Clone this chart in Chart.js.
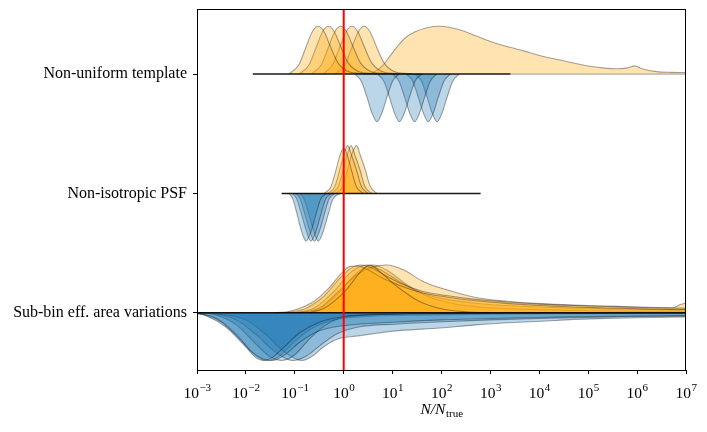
<!DOCTYPE html>
<html>
<head>
<meta charset="utf-8">
<script src="https://cdn.jsdelivr.net/npm/chart.js@4.4.1/dist/chart.umd.min.js"></script>
<style>
  html, body { margin: 0; padding: 0; background: #fff; }
  #wrap { width: 707px; height: 432px; }
</style>
</head>
<body>
<div id="wrap"><canvas id="ridge" width="707" height="432"></canvas></div>
<script>
// Ridge plot of N/N_true per systematic (orange = up, blue = down)

// --- Rows (bottom to top) ---
const rowLabels = ["Sub-bin eff. area variations", "Non-isotropic PSF", "Non-uniform template"];

// --- x ticks: decades 10^-3 .. 10^7 ---
const xTickExponents = [-3, -2, -1, 0, 1, 2, 3, 4, 5, 6, 7];
const trueRatio = 1;

// --- Curves: [log10(N/Ntrue), normalised density] ---
const templateOrange = [
  [[-1.12,0],[-0.92,0.19],[-0.78,0.54],[-0.64,0.89],[-0.52,1],[-0.40,0.88],[-0.26,0.55],[-0.12,0.24],[0.08,0.06],[0.38,0.01],[0.68,0]],
  [[-0.91,0],[-0.71,0.19],[-0.57,0.54],[-0.43,0.89],[-0.31,1],[-0.19,0.88],[-0.05,0.55],[0.09,0.24],[0.29,0.06],[0.59,0.01],[0.89,0]],
  [[-0.66,0],[-0.46,0.19],[-0.32,0.54],[-0.18,0.89],[-0.06,1],[0.06,0.88],[0.20,0.55],[0.34,0.24],[0.54,0.06],[0.84,0.01],[1.14,0]],
  [[-0.43,0],[-0.23,0.19],[-0.09,0.54],[0.05,0.89],[0.17,1],[0.29,0.88],[0.43,0.55],[0.57,0.24],[0.77,0.06],[1.07,0.01],[1.37,0]],
  [[-0.18,0],[0.02,0.19],[0.16,0.54],[0.30,0.89],[0.42,1],[0.54,0.88],[0.68,0.55],[0.82,0.24],[1.02,0.06],[1.32,0.01],[1.62,0]],
  [[0.40,0],[0.60,0.03],[0.80,0.18],[0.95,0.38],[1.10,0.58],[1.25,0.75],[1.45,0.88],[1.70,0.97],[1.95,1.0],[2.20,0.97],[2.45,0.90],
   [2.70,0.80],[3.00,0.68],[3.40,0.56],[3.70,0.48],[4.00,0.39],[4.40,0.30],[4.70,0.23],[5.00,0.17],[5.30,0.13],[5.60,0.11],
   [5.80,0.13],[5.95,0.17],[6.10,0.11],[6.40,0.05],[6.70,0.035],[7.05,0.03]]
];
const templateBlue = [
  [[0.23,0],[0.36,0.15],[0.48,0.5],[0.58,0.82],[0.68,1],[0.78,0.82],[0.88,0.5],[1.00,0.15],[1.13,0]],
  [[0.69,0],[0.82,0.15],[0.94,0.5],[1.04,0.82],[1.14,1],[1.24,0.82],[1.34,0.5],[1.46,0.15],[1.59,0]],
  [[1.00,0],[1.13,0.15],[1.25,0.5],[1.35,0.82],[1.45,1],[1.55,0.82],[1.65,0.5],[1.77,0.15],[1.90,0]],
  [[1.28,0],[1.41,0.15],[1.53,0.5],[1.63,0.82],[1.73,1],[1.83,0.82],[1.93,0.5],[2.05,0.15],[2.18,0]],
  [[1.46,0],[1.59,0.15],[1.71,0.5],[1.81,0.82],[1.91,1],[2.01,0.82],[2.11,0.5],[2.23,0.15],[2.36,0]]
];
const psfOrange = [
  [[-0.40,0],[-0.26,0.14],[-0.16,0.48],[-0.08,0.78],[0.00,0.95],[0.08,0.78],[0.16,0.48],[0.26,0.14],[0.40,0]],
  [[-0.32,0],[-0.18,0.15],[-0.08,0.5],[0.00,0.8],[0.08,1],[0.16,0.8],[0.26,0.5],[0.36,0.15],[0.50,0]],
  [[-0.25,0],[-0.11,0.15],[-0.01,0.5],[0.07,0.8],[0.15,1],[0.23,0.8],[0.33,0.5],[0.43,0.15],[0.57,0]],
  [[-0.16,0],[-0.02,0.15],[0.08,0.5],[0.16,0.8],[0.26,1],[0.34,0.8],[0.44,0.5],[0.54,0.15],[0.68,0]]
];
const psfBlue = [
  [[-1.12,0],[-1.04,0.12],[-0.95,0.45],[-0.86,0.8],[-0.77,1],[-0.67,0.8],[-0.57,0.45],[-0.47,0.12],[-0.35,0]],
  [[-1.05,0],[-0.96,0.12],[-0.86,0.45],[-0.76,0.8],[-0.67,1],[-0.57,0.8],[-0.47,0.45],[-0.37,0.12],[-0.25,0]],
  [[-0.98,0],[-0.89,0.12],[-0.79,0.45],[-0.69,0.8],[-0.60,1],[-0.50,0.8],[-0.40,0.45],[-0.30,0.12],[-0.18,0]],
  [[-0.90,0],[-0.81,0.12],[-0.71,0.45],[-0.61,0.8],[-0.52,1],[-0.42,0.8],[-0.32,0.45],[-0.22,0.12],[-0.07,0]]
];
const subbinOrange = [
  [[-0.70,0],[-0.41,0.09],[-0.15,0.28],[0.07,0.50],[0.34,0.85],[0.54,1],[0.75,0.85],[1.09,0.55],[1.56,0.23],[1.97,0.09],[2.50,0.02],[3.00,0]],
  [[-1.40,0],[-1.10,0.03],[-0.62,0.23],[-0.30,0.52],[-0.05,0.82],[0.13,0.97],[0.30,0.98],[0.50,0.90],[0.80,0.72],[1.20,0.55],[1.60,0.42],
   [2.10,0.33],[2.70,0.25],[3.40,0.19],[4.00,0.15],[4.70,0.12],[5.40,0.10],[6.10,0.08],[6.80,0.07],[7.05,0.07]],
  [[-1.20,0],[-0.80,0.08],[-0.40,0.35],[-0.10,0.70],[0.15,0.93],[0.35,1],[0.55,0.95],[0.85,0.78],[1.20,0.60],[1.60,0.45],[2.10,0.36],
   [2.70,0.28],[3.40,0.22],[4.00,0.18],[4.70,0.15],[5.40,0.13],[6.10,0.11],[6.80,0.10],[7.05,0.10]],
  [[-0.90,0],[-0.50,0.10],[-0.10,0.45],[0.30,0.82],[0.60,0.96],[0.88,1.0],[1.22,0.90],[1.63,0.65],[2.11,0.48],[2.65,0.33],[3.34,0.24],
   [4.02,0.19],[4.70,0.16],[5.38,0.14],[6.06,0.12],[6.74,0.105],[6.88,0.17],[7.05,0.22]],
  [[-1.00,0],[-0.60,0.10],[-0.20,0.45],[0.15,0.85],[0.47,1],[0.75,0.90],[1.10,0.68],[1.50,0.45],[2.00,0.30],[2.60,0.21],[3.30,0.15],
   [4.00,0.12],[4.70,0.10],[5.40,0.08],[6.10,0.07],[6.80,0.06],[7.05,0.06]],
  [[-0.90,0],[-0.50,0.08],[-0.10,0.42],[0.30,0.86],[0.60,1],[0.90,0.88],[1.30,0.58],[1.70,0.35],[2.20,0.20],[2.80,0.12],[3.50,0.08],
   [4.30,0.06],[5.20,0.04],[6.20,0.03],[7.05,0.03]]
];
const subbinBlue = [
  [[-3.20,0],[-3.00,0.02],[-2.80,0.07],[-2.40,0.31],[-2.00,0.72],[-1.80,0.94],[-1.65,1.0],[-1.45,0.93],[-1.20,0.70],[-0.90,0.42],
   [-0.50,0.20],[0.00,0.08],[1.00,0.03],[2.00,0.015],[3.00,0.01],[7.05,0.005]],
  [[-3.20,0],[-3.00,0.01],[-2.60,0.12],[-2.20,0.45],[-1.90,0.80],[-1.65,0.97],[-1.45,1.0],[-1.20,0.88],[-0.90,0.62],[-0.50,0.38],
   [0.00,0.27],[1.00,0.20],[2.00,0.15],[3.00,0.12],[4.00,0.10],[5.00,0.08],[6.00,0.07],[7.05,0.06]],
  [[-3.00,0],[-2.60,0.05],[-2.20,0.25],[-1.80,0.65],[-1.50,0.93],[-1.28,1.0],[-1.00,0.88],[-0.70,0.55],[-0.40,0.28],[-0.10,0.12],
   [0.50,0.05],[2.00,0.02],[4.00,0.01],[7.05,0.005]],
  [[-3.00,0],[-2.60,0.03],[-2.20,0.15],[-1.80,0.45],[-1.40,0.82],[-1.04,1.0],[-0.75,0.90],[-0.45,0.66],[-0.15,0.45],[0.30,0.30],
   [1.07,0.24],[2.00,0.19],[3.00,0.15],[4.00,0.12],[5.00,0.10],[6.00,0.08],[7.05,0.07]],
  [[-3.00,0],[-2.50,0.03],[-2.00,0.15],[-1.60,0.45],[-1.20,0.83],[-0.85,1.0],[-0.60,0.88],[-0.43,0.73],[-0.15,0.56],[0.26,0.49],
   [1.07,0.38],[1.97,0.32],[2.65,0.26],[3.34,0.21],[4.02,0.18],[4.70,0.14],[5.38,0.12],[6.06,0.105],[7.05,0.09]],
  [[-3.20,0],[-2.90,0.03],[-2.50,0.20],[-2.10,0.58],[-1.80,0.90],[-1.55,1.0],[-1.30,0.90],[-1.00,0.60],[-0.60,0.30],[-0.20,0.15],
   [0.50,0.08],[1.50,0.05],[3.00,0.03],[5.00,0.02],[7.05,0.015]]
];

// --- Base lines under each ridge: [row, from log10, to log10] ---
const baseSpans = [[2, -1.86, 3.41], [1, -1.27, 2.80], [0, -3.2, 7.2]];
const faintSpans = [[2, 3.41, 7.2]];

// --- Layout / style ---
const Y_MIN = -0.48, Y_MAX = 2.545;
const RIDGE = 0.4;
const ORANGE = "rgba(255,165,0,0.3)";
const BLUE = "rgba(31,119,180,0.3)";
const EDGE = "rgba(0,0,0,0.35)";
const SERIF = "'Liberation Serif', 'DejaVu Serif', serif";

function ridgeDatasets(curves, row, sign, color) {
  return curves.map(c => ({
    data: c.map(([lx, h]) => ({ x: Math.pow(10, lx), y: row + sign * h * RIDGE })),
    fill: { value: row },
    backgroundColor: color,
    borderColor: EDGE,
    borderWidth: 1.1,
    pointRadius: 0,
    cubicInterpolationMode: "monotone"
  }));
}

function spanDatasets(spans, color, width) {
  return spans.map(([row, a, b]) => ({
    data: [{ x: Math.pow(10, a), y: row }, { x: Math.pow(10, b), y: row }],
    borderColor: color,
    borderWidth: width,
    pointRadius: 0,
    fill: false,
    order: -5
  }));
}

const datasets = [
  { data: [{ x: trueRatio, y: Y_MIN }, { x: trueRatio, y: Y_MAX }], borderColor: "#ff0000",
    borderWidth: 2, pointRadius: 0, fill: false, order: -10 },
  ...spanDatasets(baseSpans, "rgba(0,0,0,0.9)", 1.5),
  ...spanDatasets(faintSpans, "rgba(0,0,0,0.3)", 1.2),
  ...ridgeDatasets(templateOrange, 2, 1, ORANGE),
  ...ridgeDatasets(templateBlue, 2, -1, BLUE),
  ...ridgeDatasets(psfOrange, 1, 1, ORANGE),
  ...ridgeDatasets(psfBlue, 1, -1, BLUE),
  ...ridgeDatasets(subbinOrange, 0, 1, ORANGE),
  ...ridgeDatasets(subbinBlue, 0, -1, BLUE)
];

// --- Frame, superscript tick labels and axis title ---
const decorations = {
  id: "decorations",
  afterDatasetsDraw(chart) {
    const { ctx, chartArea: a } = chart;
    ctx.save();
    ctx.strokeStyle = "#000";
    ctx.lineWidth = 1;
    ctx.strokeRect(a.left + 0.5, a.top + 0.5, a.right - a.left - 1, a.bottom - a.top);
    ctx.restore();
  },
  afterDraw(chart) {
    const { ctx, chartArea: a } = chart;
    const xs = chart.scales.x;
    ctx.save();
    ctx.fillStyle = "#000";
    ctx.textBaseline = "alphabetic";
    xs.ticks.forEach((t, i) => {
      const px = xs.getPixelForValue(t.value);
      const base = "10";
      const exp = String(xTickExponents[i]).replace("-", "\u2212");
      ctx.font = "15.5px " + SERIF;
      const wb = ctx.measureText(base).width;
      ctx.font = "11px " + SERIF;
      const we = ctx.measureText(exp).width;
      const x0 = px - (wb + we) / 2;
      ctx.font = "15.5px " + SERIF;
      ctx.fillText(base, x0, a.bottom + 27.5);
      ctx.font = "11px " + SERIF;
      ctx.fillText(exp, x0 + wb + 0.5, a.bottom + 21);
    });
    // title N/N_true
    const cx = (a.left + a.right) / 2;
    ctx.font = "italic 15.5px " + SERIF;
    const w1 = ctx.measureText("N/N").width;
    ctx.font = "11px " + SERIF;
    const w2 = ctx.measureText("true").width;
    const tx = cx - (w1 + w2) / 2;
    ctx.font = "italic 15.5px " + SERIF;
    ctx.fillText("N/N", tx, a.bottom + 43.5);
    ctx.font = "11px " + SERIF;
    ctx.fillText("true", tx + w1 + 0.5, a.bottom + 46.5);
    ctx.restore();
  }
};

new Chart(document.getElementById("ridge"), {
  type: "line",
  data: { datasets },
  options: {
    responsive: false,
    animation: false,
    layout: { padding: { top: 9, right: 21, left: 0, bottom: 0 } },
    plugins: { legend: { display: false }, tooltip: { enabled: false } },
    scales: {
      x: {
        type: "logarithmic",
        min: Math.pow(10, xTickExponents[0]),
        max: Math.pow(10, xTickExponents[xTickExponents.length - 1]),
        afterBuildTicks: s => { s.ticks = xTickExponents.map(e => ({ value: Math.pow(10, e), major: true })); },
        afterFit: s => { s.height = 62; s.paddingLeft = 0; s.paddingRight = 0; },
        ticks: { autoSkip: false, maxRotation: 0, color: "rgba(0,0,0,0)", callback: () => "" },
        grid: { drawOnChartArea: false, drawTicks: true, tickLength: 4, color: "#000", lineWidth: 1 },
        border: { display: true, color: "#000", width: 1 }
      },
      y: {
        type: "linear",
        min: Y_MIN,
        max: Y_MAX,
        afterBuildTicks: s => { s.ticks = rowLabels.map((_, i) => ({ value: i })); },
        afterFit: s => { s.width = 197; s.paddingTop = 0; s.paddingBottom = 0; },
        ticks: {
          autoSkip: false,
          color: "#000",
          padding: 6,
          font: { family: SERIF, size: 16 },
          callback: v => rowLabels[Math.round(v)]
        },
        grid: { drawOnChartArea: false, drawTicks: true, tickLength: 4, color: "#000", lineWidth: 1 },
        border: { display: true, color: "#000", width: 1 }
      }
    }
  },
  plugins: [decorations]
});
</script>
</body>
</html>
